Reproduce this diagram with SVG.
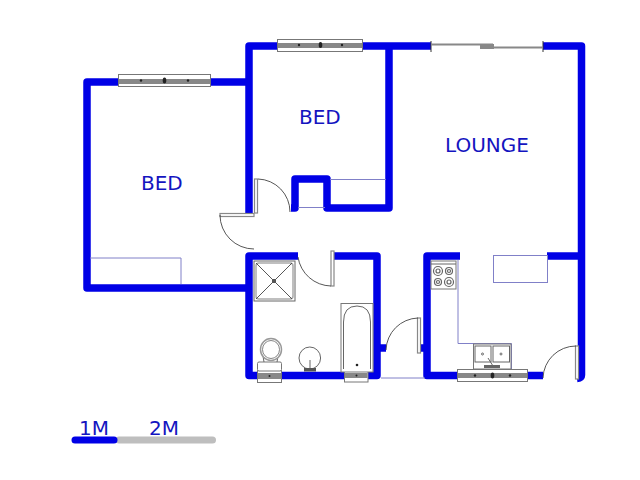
<svg xmlns="http://www.w3.org/2000/svg" width="640" height="480" viewBox="0 0 640 480">
<style>
.w{fill:none;stroke:#0000e6;stroke-width:7.5;stroke-linejoin:round;stroke-linecap:butt}
.t{fill:none;stroke:#8080c8;stroke-width:1}
.d{fill:none;stroke:#444;stroke-width:.9}
.j{fill:#fff;stroke:#888;stroke-width:1.200}
.f{fill:#fff;stroke:#777;stroke-width:1}
.l{fill:none;stroke:#666;stroke-width:1}
.band{fill:#888}
.dot{fill:#222}
text{font-family:"DejaVu Sans",sans-serif;font-size:20px;fill:#1414c0}
</style>
<rect width="640" height="480" fill="#fff"/>
<g id="walls">
<path class="w" d="M249 82H87V288H249"/>
<path class="w" d="M249 214V46H431"/>
<path class="w" d="M543 46H581.500V375Q581.500 378 577 378.500"/>
<path class="w" d="M389 46V208H327V179H295V208H291"/>
<path class="w" d="M298 256H249V375.500H377V256H333"/>
<path class="w" d="M460 256H427V375.500H543"/>
<path class="w" d="M547 256H581"/>
<path class="w" d="M380 348H386M421 348H427"/>
</g>
<g id="fittings">
<path class="t" d="M90 258H181V284"/>
<path class="t" d="M330 179.500H386M298 207.500H325"/>
<path class="t" d="M458 260V343.500H511.500V369"/>
<rect class="t" x="493.500" y="255.500" width="54" height="27"/>
<path class="t" d="M381 378H425"/>
</g>
<g id="window-1"><rect class="f" x="118.500" y="74.500" width="92" height="12"/><rect class="band" x="119" y="79" width="91" height="5"/><circle class="dot" cx="141" cy="80.500" r="1.200"/><ellipse class="dot" cx="164.500" cy="80.500" rx="1.800" ry="3"/><circle class="dot" cx="188" cy="80.500" r="1.200"/></g>
<g id="window-2"><rect class="f" x="277.500" y="39.500" width="85" height="12"/><rect class="band" x="278" y="43" width="84" height="5"/><circle class="dot" cx="299" cy="45" r="1.200"/><ellipse class="dot" cx="320.500" cy="45" rx="1.800" ry="3"/><circle class="dot" cx="342" cy="45" r="1.200"/></g>
<g id="window-3"><rect class="f" x="457.500" y="369.500" width="70" height="12"/><rect class="band" x="458" y="373" width="69" height="5"/><circle class="dot" cx="475" cy="375.500" r="1.200"/><ellipse class="dot" cx="492.500" cy="375.500" rx="1.800" ry="3"/><circle class="dot" cx="510" cy="375.500" r="1.200"/></g>
<g id="window-4"><rect class="f" x="257.500" y="370.500" width="24" height="12"/><rect class="band" x="258" y="373" width="23" height="6"/><circle class="dot" cx="269.500" cy="376" r="1"/></g>
<g id="window-5"><rect class="f" x="344.500" y="370" width="23.500" height="12"/><rect class="band" x="345" y="373" width="22.500" height="5"/><circle class="dot" cx="356.500" cy="375.500" r="1"/></g>
<g id="sliding-door">
<path d="M431 41V52M543 41V52" stroke="#333" stroke-width="1" fill="none"/>
<path d="M431 44.500H493M480 47.500H543" stroke="#888" stroke-width="2" fill="none"/>
<rect x="480" y="44" width="14" height="5" fill="#888"/>
</g>
<g id="door-1"><rect class="j" x="254.500" y="179" width="3" height="34"/><path class="d" d="M258 179A33 33 0 0 1 290 212"/></g>
<g id="door-2"><rect class="j" x="220" y="213.500" width="34" height="3"/><path class="d" d="M220 215A34 34 0 0 0 254 249"/></g>
<g id="door-3"><rect class="j" x="331" y="251" width="3" height="35"/><path class="d" d="M298 257A34 34 0 0 0 331 286"/></g>
<g id="door-4"><rect class="j" x="417.500" y="318" width="3" height="35"/><path class="d" d="M386 350A33 33 0 0 1 418 318"/></g>
<g id="door-5"><rect class="j" x="575.500" y="346" width="3" height="33"/><path class="d" d="M543 378A33 33 0 0 1 576 346"/></g>
<g id="shower">
<rect x="254" y="261" width="41" height="40" fill="#fff" stroke="#666"/>
<rect x="256" y="263" width="37" height="36" rx="3" fill="none" stroke="#aaa" stroke-width="1.500"/>
<path class="d" d="M256 263L292 299M292 263L256 299"/>
<rect x="272" y="279" width="4" height="4" fill="#555"/>
</g>
<g id="stove">
<rect class="f" x="431" y="261" width="25" height="28"/>
<path class="l" d="M431 264H456" stroke-width=".8"/>
<g fill="none" stroke="#666" stroke-width="1.200">
<circle cx="438" cy="271" r="4.500"/><circle cx="438" cy="271" r="2"/>
<circle cx="449" cy="271" r="3.500"/><circle cx="449" cy="271" r="1.500"/>
<circle cx="438" cy="282" r="3.500"/><circle cx="438" cy="282" r="1.500"/>
<circle cx="449" cy="282" r="4.500"/><circle cx="449" cy="282" r="2"/>
</g>
</g>
<g id="sink">
<rect class="f" x="473.500" y="344" width="37.500" height="25"/>
<rect class="l" x="475" y="346" width="16" height="16" stroke-width=".8"/>
<rect class="l" x="493" y="346" width="16.500" height="16" stroke-width=".8"/>
<circle class="l" cx="482.500" cy="354" r="1"/><circle class="l" cx="501" cy="354" r="1"/>
<rect x="484" y="365" width="16" height="3" fill="#666"/>
<path class="l" d="M488 358L493 366" stroke-width="1.200"/>
</g>
<g id="toilet">
<rect class="f" x="257.500" y="362" width="24" height="9" rx="1.500"/>
<path class="l" d="M263 356L264 362M278 356L277 362" stroke-width=".8"/>
<ellipse cx="271" cy="349.500" rx="10.500" ry="11" fill="#fff" stroke="#999" stroke-width="1.500"/>
<ellipse cx="271" cy="349.500" rx="8.500" ry="9" fill="none" stroke="#666" stroke-width=".8"/>
</g>
<g id="basin">
<ellipse class="l" cx="309.800" cy="358" rx="10.800" ry="11" stroke-width=".8"/>
<path d="M310 360V368" stroke="#999" stroke-width="1.500" fill="none"/>
<rect x="304" y="368" width="12" height="3.500" fill="#555"/>
</g>
<g id="bath">
<rect class="f" x="341" y="303.500" width="32" height="68.500"/>
<path class="l" d="M343.500 369V322Q343.500 306 357 306Q370.500 306 370.500 322V369" stroke-width=".9"/>
<circle class="dot" cx="357" cy="365" r="1.300"/>
</g>
<g id="labels">
<text x="141" y="190">BED</text>
<text x="299" y="124">BED</text>
<text x="445" y="152">LOUNGE</text>
</g>
<g id="scale">
<path d="M119 440H212.500" stroke="#bebebe" stroke-width="7" stroke-linecap="round" fill="none"/>
<path d="M75 440H114" stroke="#0000e6" stroke-width="7" stroke-linecap="round" fill="none"/>
<text x="79" y="435">1M</text>
<text x="149" y="435">2M</text>
</g>
</svg>
